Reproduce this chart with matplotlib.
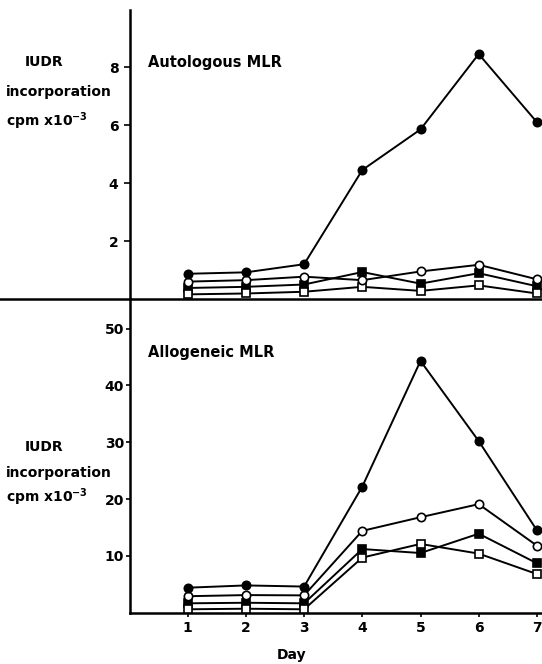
import matplotlib
matplotlib.use("Agg")
import matplotlib.pyplot as plt

plt.rcParams['font.family'] = ['DejaVu Sans']
plt.rcParams['font.weight'] = 'bold'
plt.rcParams['mathtext.fontset'] = 'dejavusans'

days = [1, 2, 3, 4, 5, 6, 7]

# Autologous MLR (cpm x 10^-3)
auto_filled_circle = [0.87, 0.92, 1.2, 4.45, 5.85, 8.45, 6.1]
auto_open_circle = [0.6, 0.65, 0.77, 0.65, 0.95, 1.18, 0.68]
auto_filled_square = [0.38, 0.42, 0.5, 0.93, 0.53, 0.89, 0.44]
auto_open_square = [0.16, 0.19, 0.25, 0.42, 0.28, 0.47, 0.19]

# Allogeneic MLR (cpm x 10^-3)
allo_filled_circle = [4.4, 4.8, 4.6, 22.2, 44.3, 30.2, 14.5]
allo_open_circle = [2.9, 3.1, 3.05, 14.4, 16.8, 19.1, 11.8]
allo_filled_square = [1.65, 1.75, 1.65, 11.2, 10.5, 13.9, 8.7]
allo_open_square = [0.6, 0.7, 0.6, 9.7, 12.1, 10.4, 6.8]

W, H = 542, 664
fig = plt.figure(figsize=(W / 100, H / 100), dpi=100)

x0 = 129.5
right = W
ax_top = fig.add_axes([x0 / W, (H - 299) / H, (right - x0) / W, (299 - 10) / H])
ax_bot = fig.add_axes([x0 / W, (H - 612.7) / H, (right - x0) / W, (612.7 - 299) / H])

xmax = (right - x0) / 58.2


def draw_series(ax, fc, oc, fs, os_):
    kw = dict(color='black', lw=1.4, markersize=6, markeredgewidth=1.2, clip_on=False, zorder=3)
    ax.plot(days, fs, marker='s', markerfacecolor='black', markeredgecolor='black', **kw)
    ax.plot(days, os_, marker='s', markerfacecolor='white', markeredgecolor='black', **kw)
    ax.plot(days, oc, marker='o', markerfacecolor='white', markeredgecolor='black', **kw)
    ax.plot(days, fc, marker='o', markerfacecolor='black', markeredgecolor='black', **kw)


draw_series(ax_top, auto_filled_circle, auto_open_circle, auto_filled_square, auto_open_square)
draw_series(ax_bot, allo_filled_circle, allo_open_circle, allo_filled_square, allo_open_square)

for ax in (ax_top, ax_bot):
    ax.set_xlim(0, xmax)
    ax.spines['top'].set_visible(False)
    ax.spines['right'].set_visible(False)
    ax.spines['left'].set_linewidth(1.8)
    ax.spines['bottom'].set_linewidth(1.8)
    ax.patch.set_alpha(0)

ax_top.set_ylim(0, 9.97)
ax_top.set_yticks([2, 4, 6, 8])
ax_top.set_xticks([])
ax_top.tick_params(axis='y', direction='out', length=4, width=1.2, labelsize=10, pad=4)
# the baseline of the top panel runs to the left edge of the figure
ax_top.plot([-x0 / (right - x0), 0], [0, 0], transform=ax_top.transAxes,
            color='black', lw=1.8, clip_on=False)

ax_bot.set_ylim(0, 55.2)
ax_bot.set_yticks([10, 20, 30, 40, 50])
ax_bot.set_xticks(days)
ax_bot.tick_params(axis='y', direction='out', length=3, width=1.2, labelsize=10, pad=1)
ax_bot.tick_params(axis='x', direction='out', length=3, width=1.2, labelsize=10, pad=3)

for lbl in ax_top.get_yticklabels() + ax_bot.get_yticklabels() + ax_bot.get_xticklabels():
    lbl.set_fontweight('bold')

fig.text(148 / W, 1 - 63 / H, 'Autologous MLR', fontsize=10.5, fontweight='bold', va='center')
fig.text(148 / W, 1 - 352 / H, 'Allogeneic MLR', fontsize=10.5, fontweight='bold', va='center')

for ys in ((62, 92, 121), (447, 473, 497)):
    fig.text(25 / W, 1 - ys[0] / H, 'IUDR', fontsize=10, fontweight='bold', va='center')
    fig.text(6 / W, 1 - ys[1] / H, 'incorporation', fontsize=10, fontweight='bold', va='center')
    fig.text(6 / W, 1 - ys[2] / H, r'cpm x$\mathbf{10^{-3}}$', fontsize=10, fontweight='bold', va='center')

fig.text(292 / W, 1 - 655 / H, 'Day', fontsize=10, fontweight='bold', ha='center', va='center')

fig.savefig('out.png', dpi=100)
